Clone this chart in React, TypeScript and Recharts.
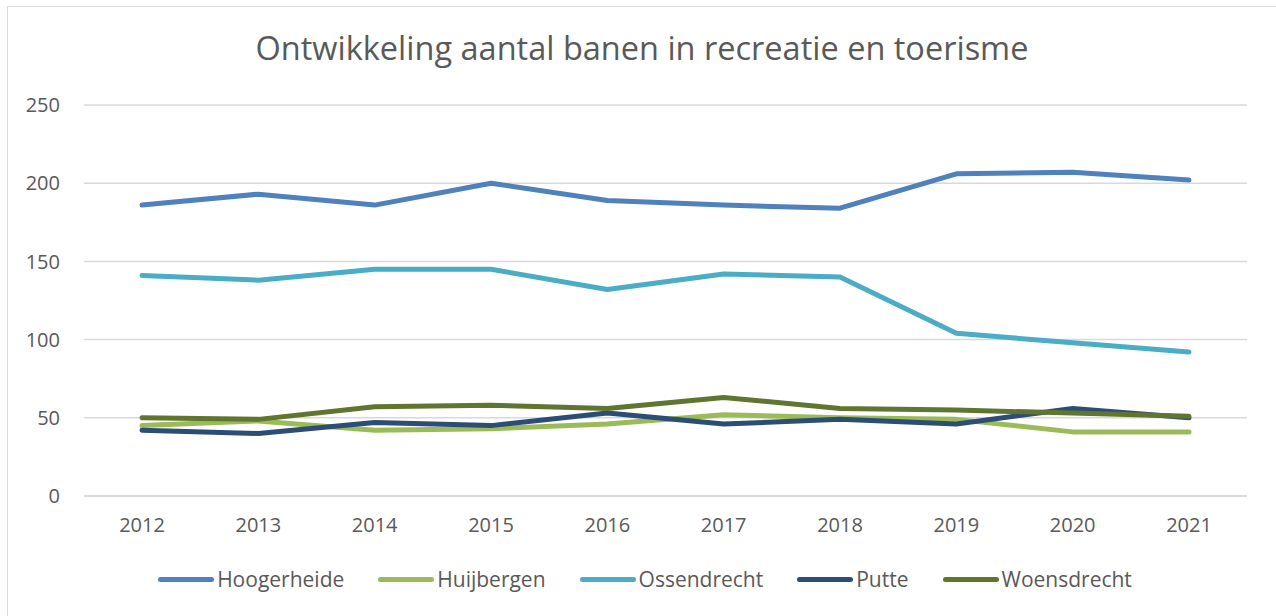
import React from 'react';
import { LineChart, Line, XAxis, YAxis, CartesianGrid, Legend } from 'recharts';

const years = ['2012', '2013', '2014', '2015', '2016', '2017', '2018', '2019', '2020', '2021'];
const hoogerheide = [186, 193, 186, 200, 189, 186, 184, 206, 207, 202];
const huijbergen = [45, 48, 42, 43, 46, 52, 50, 49, 41, 41];
const ossendrecht = [141, 138, 145, 145, 132, 142, 140, 104, 98, 92];
const putte = [42, 40, 47, 45, 53, 46, 49, 46, 56, 50];
const woensdrecht = [50, 49, 57, 58, 56, 63, 56, 55, 53, 51];
const yTicks = [0, 50, 100, 150, 200, 250];

const series = [
  { key: 'Hoogerheide', values: hoogerheide, color: '#4f81bd' },
  { key: 'Huijbergen', values: huijbergen, color: '#9bbb59' },
  { key: 'Ossendrecht', values: ossendrecht, color: '#4bacc6' },
  { key: 'Putte', values: putte, color: '#2c4d75' },
  { key: 'Woensdrecht', values: woensdrecht, color: '#5f7530' },
];

const data = years.map((year, i) => {
  const row: any = { year };
  series.forEach(s => { row[s.key] = s.values[i]; });
  return row;
});

const FONT = '"Open Sans", sans-serif';
const TEXT = '#595959';

const renderLegend = () => (
  <div style={{ display: 'flex', justifyContent: 'center', alignItems: 'center', gap: 34, height: 26, paddingLeft: 14, fontFamily: FONT, fontSize: 21, color: TEXT }}>
    {series.map(s => (
      <div key={s.key} style={{ display: 'flex', alignItems: 'center' }}>
        <span style={{ display: 'inline-block', width: 56, height: 5, borderRadius: 3, background: s.color, marginRight: 3 }} />
        <span>{s.key}</span>
      </div>
    ))}
  </div>
);

export default function App() {
  return (
    <div style={{ position: 'absolute', left: 0, top: 0, width: 1276, height: 616, background: '#fff', overflow: 'hidden' }}>
      <div style={{ position: 'absolute', left: 7, top: 6, width: 1300, height: 700, borderLeft: '1px solid #d9d9d9', borderTop: '1px solid #d9d9d9' }} />
      <div style={{ position: 'absolute', left: 0, top: 25, width: 1284, textAlign: 'center', fontFamily: FONT, fontSize: 32.5, color: TEXT }}>
        Ontwikkeling aantal banen in recreatie en toerisme
      </div>
      <div style={{ position: 'absolute', left: 0, top: 0 }}>
        <LineChart width={1276} height={616} data={data} margin={{ top: 105, right: 29, bottom: 44, left: 0 }}>
          <CartesianGrid vertical={false} stroke="#d9d9d9" strokeWidth={1.5} />
          <XAxis
            dataKey="year"
            axisLine={{ stroke: '#d9d9d9', strokeWidth: 1.5 }}
            tickLine={false}
            tickSize={0}
            tickMargin={22}
            padding={{ left: 58, right: 58 }}
            tick={{ fill: TEXT, fontSize: 20, fontFamily: FONT }}
            height={50}
          />
          <YAxis
            domain={[0, 250]}
            ticks={yTicks}
            axisLine={false}
            tickLine={false}
            tickSize={0}
            tickMargin={24}
            width={84}
            tick={{ fill: TEXT, fontSize: 20, fontFamily: FONT }}
          />
          <Legend content={renderLegend} wrapperStyle={{ top: 566, left: 0, width: 1276 }} />
          {series.map(s => (
            <Line
              key={s.key}
              dataKey={s.key}
              stroke={s.color}
              strokeWidth={5}
              strokeLinecap="round"
              strokeLinejoin="round"
              dot={false}
              activeDot={false}
              isAnimationActive={false}
            />
          ))}
        </LineChart>
      </div>
    </div>
  );
}
